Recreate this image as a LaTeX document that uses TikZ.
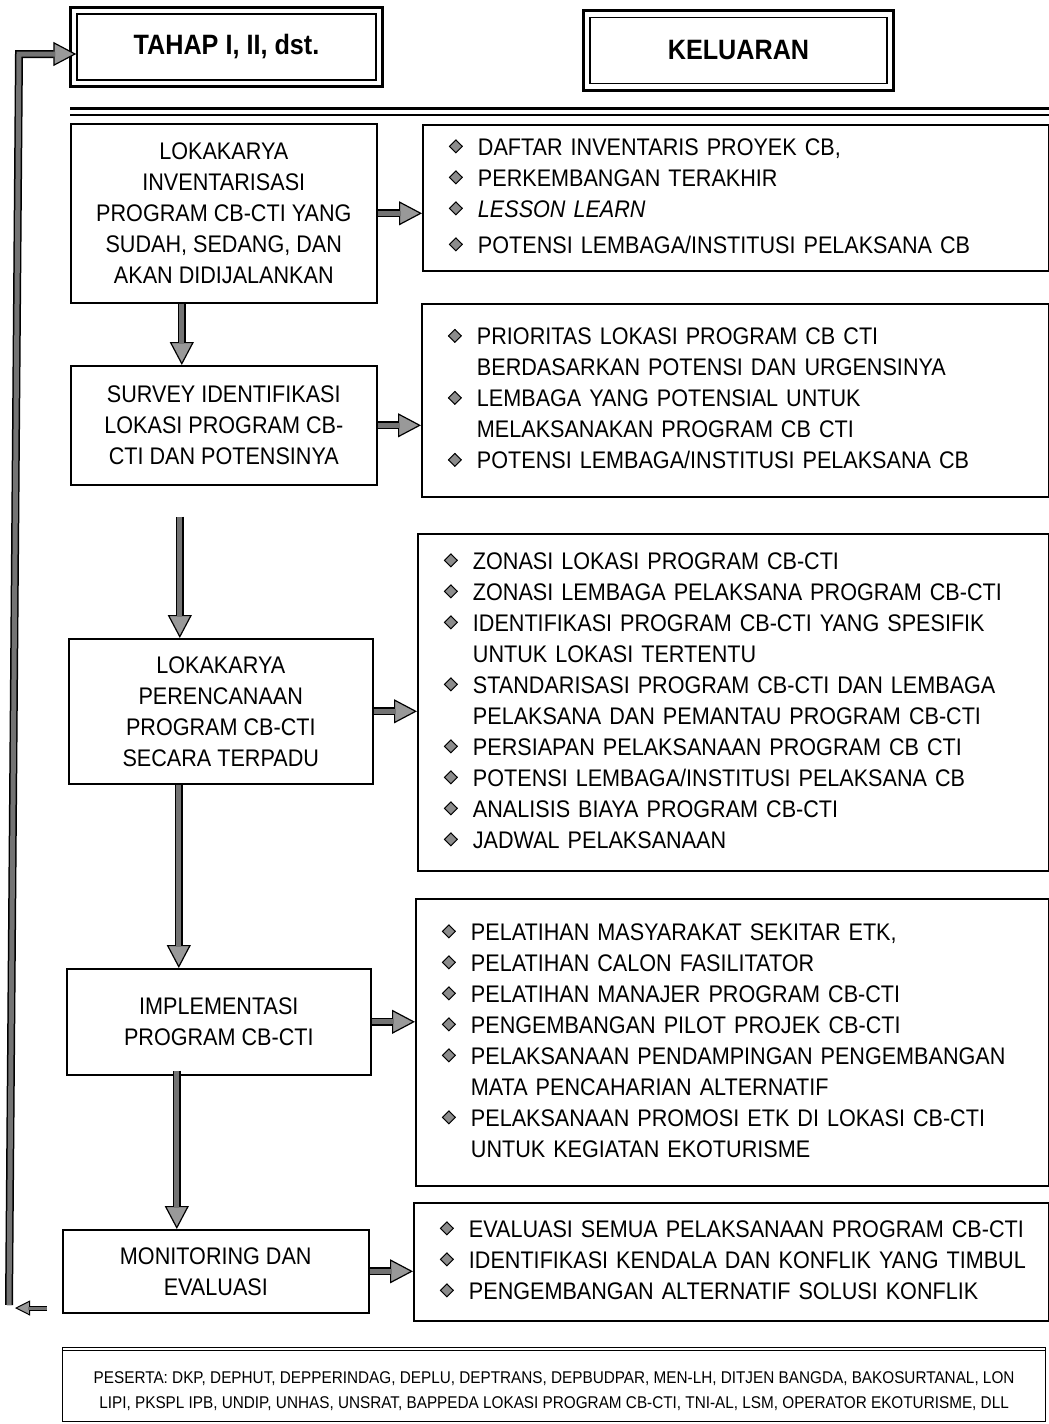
\documentclass[tikz,border=0pt]{standalone}
\usepackage{graphicx}
\usepackage{fontspec}
\setmainfont{Liberation Sans}[FakeStretch=0.9]
\usetikzlibrary{arrows.meta}

\newcommand{\bul}{\raisebox{2.3pt}{\setlength{\fboxsep}{0pt}\setlength{\fboxrule}{1pt}%
    \rotatebox{45}{\fcolorbox{black}{black!45}{\rule{0pt}{8pt}\rule{8pt}{0pt}}}}}
\newcommand{\itm}{\bul &}

\begin{document}
\begin{tikzpicture}[x=1pt,y=-1pt]

    % Set the canvas size
    \useasboundingbox (0,0) rectangle (1049,1424);

    % Define styles
    \tikzset{
        headbox/.style={draw, line width=1.4pt, minimum height=66pt, font=\fontsize{28}{32}\selectfont\bfseries},
        headframe/.style={line width=3pt},
        stagebox/.style={draw, line width=1.6pt, anchor=north west, align=center, inner sep=0pt, font=\fontsize{24}{31}\selectfont},
        outbox/.style={draw, line width=1.6pt, anchor=north west, inner xsep=26pt, inner ysep=0pt, font=\fontsize{24}{31}\selectfont},
        fatarrow/.style={line width=8pt, -{Triangle[length=23pt, width=24pt, line width=1.2pt, fill=black!40]},
            postaction={draw=black!55, line width=5pt, -, shorten >=21pt}},
        smallarrow/.style={line width=5pt, -{Triangle[length=15pt, width=15pt, line width=1pt, fill=black!40]},
            postaction={draw=black!55, line width=3pt, -, shorten >=13pt}},
    }

    % Headers
    \node[headbox, minimum width=299pt] (tahap) at (226.5,47) {TAHAP I, II, dst.};
    \node[headbox, minimum width=297pt] (keluaran) at (738.5,50.5) {KELUARAN};
    \draw[headframe] ([xshift=-6pt,yshift=6pt]tahap.north west) rectangle ([xshift=6pt,yshift=-6pt]tahap.south east);
    \draw[headframe] ([xshift=-6pt,yshift=6pt]keluaran.north west) rectangle ([xshift=6pt,yshift=-6pt]keluaran.south east);
    \draw[line width=3pt] (70,108) -- (1049,108);
    \draw[line width=1.5pt] (70,115) -- (1049,115);

    % Stages
    \node[stagebox, minimum width=306pt, minimum height=179pt] (inv) at (70,123)
        {LOKAKARYA\\INVENTARISASI\\PROGRAM CB-CTI YANG\\SUDAH, SEDANG, DAN\\AKAN DIDIJALANKAN};
    \node[stagebox, minimum width=306pt, minimum height=119pt] (survey) at (70,365)
        {SURVEY IDENTIFIKASI\\LOKASI PROGRAM CB-\\CTI DAN POTENSINYA};
    \node[stagebox, minimum width=304pt, minimum height=145pt] (plan) at (68,638)
        {LOKAKARYA\\PERENCANAAN\\PROGRAM CB-CTI\\SECARA TERPADU};
    \node[stagebox, minimum width=304pt, minimum height=106pt] (impl) at (66,968)
        {IMPLEMENTASI\\PROGRAM CB-CTI};
    \node[stagebox, minimum width=306pt, minimum height=83pt] (monev) at (62,1229)
        {MONITORING DAN\\EVALUASI};

    % Outputs
    \node[outbox, text width=574pt, minimum height=146pt] (out1) at (422,124) {%
        \begin{tabular}{@{}l@{\hspace{15pt}}l@{}}
        \itm DAFTAR INVENTARIS PROYEK CB,\\
        \itm PERKEMBANGAN TERAKHIR\\
        \itm \textit{LESSON LEARN}\\[5pt]
        \itm POTENSI LEMBAGA/INSTITUSI PELAKSANA CB\\
        \end{tabular}};
    \node[outbox, text width=575pt, minimum height=193pt] (out2) at (421,303) {%
        \begin{tabular}{@{}l@{\hspace{15pt}}l@{}}
        \itm PRIORITAS LOKASI PROGRAM CB CTI\\
        & BERDASARKAN POTENSI DAN URGENSINYA\\
        \itm LEMBAGA YANG POTENSIAL UNTUK\\
        & MELAKSANAKAN PROGRAM CB CTI\\
        \itm POTENSI LEMBAGA/INSTITUSI PELAKSANA CB\\
        \end{tabular}};
    \node[outbox, text width=579pt, minimum height=337pt] (out3) at (417,533) {%
        \begin{tabular}{@{}l@{\hspace{15pt}}l@{}}
        \itm ZONASI LOKASI PROGRAM CB-CTI\\
        \itm ZONASI LEMBAGA PELAKSANA PROGRAM CB-CTI\\
        \itm IDENTIFIKASI PROGRAM CB-CTI YANG SPESIFIK\\
        & UNTUK LOKASI TERTENTU\\
        \itm STANDARISASI PROGRAM CB-CTI DAN LEMBAGA\\
        & PELAKSANA DAN PEMANTAU PROGRAM CB-CTI\\
        \itm PERSIAPAN PELAKSANAAN PROGRAM CB CTI\\
        \itm POTENSI LEMBAGA/INSTITUSI PELAKSANA CB\\
        \itm ANALISIS BIAYA PROGRAM CB-CTI\\
        \itm JADWAL PELAKSANAAN\\
        \end{tabular}};
    \node[outbox, text width=581pt, minimum height=287pt] (out4) at (415,898) {%
        \begin{tabular}{@{}l@{\hspace{15pt}}l@{}}
        \itm PELATIHAN MASYARAKAT SEKITAR ETK,\\
        \itm PELATIHAN CALON FASILITATOR\\
        \itm PELATIHAN MANAJER PROGRAM CB-CTI\\
        \itm PENGEMBANGAN PILOT PROJEK CB-CTI\\
        \itm PELAKSANAAN PENDAMPINGAN PENGEMBANGAN\\
        & MATA PENCAHARIAN ALTERNATIF\\
        \itm PELAKSANAAN PROMOSI ETK DI LOKASI CB-CTI\\
        & UNTUK KEGIATAN EKOTURISME\\
        \end{tabular}};
    \node[outbox, text width=583pt, minimum height=118pt] (out5) at (413,1202) {%
        \begin{tabular}{@{}l@{\hspace{15pt}}l@{}}
        \itm EVALUASI SEMUA PELAKSANAAN PROGRAM CB-CTI\\
        \itm IDENTIFIKASI KENDALA DAN KONFLIK YANG TIMBUL\\
        \itm PENGEMBANGAN ALTERNATIF SOLUSI KONFLIK\\
        \end{tabular}};

    % Participants
    \node[draw, line width=1.2pt, anchor=north west, inner sep=0pt, minimum width=983pt, minimum height=74pt,
        align=center, font=\fontsize{17}{25}\selectfont, text height=49pt] (peserta) at (62,1347)
        {PESERTA: DKP, DEPHUT, DEPPERINDAG, DEPLU, DEPTRANS, DEPBUDPAR, MEN-LH, DITJEN BANGDA, BAKOSURTANAL, LON\\
         LIPI, PKSPL IPB, UNDIP, UNHAS, UNSRAT, BAPPEDA LOKASI PROGRAM CB-CTI, TNI-AL, LSM, OPERATOR EKOTURISME, DLL};
    \draw[line width=1.2pt] ([yshift=-3.5pt]peserta.north west) -- ([yshift=-3.5pt]peserta.north east);

    % Down arrows between stages
    \coordinate (d1) at ([xshift=-42pt]inv.south);
    \coordinate (d2) at ([xshift=-44pt,yshift=-31pt]survey.south);
    \coordinate (d3) at ([xshift=-42pt]plan.south);
    \coordinate (d4) at ([xshift=-42pt,yshift=5pt]impl.south);
    \draw[fatarrow] (d1) -- (d1 |- survey.north);
    \draw[fatarrow] (d2) -- (d2 |- plan.north);
    \draw[fatarrow] (d3) -- (d3 |- impl.north);
    \draw[fatarrow] (d4) -- (d4 |- monev.north);

    % Arrows to outputs
    \draw[fatarrow] (inv.east) -- (inv.east -| out1.west);
    \draw[fatarrow] (survey.east) -- (survey.east -| out2.west);
    \draw[fatarrow] (plan.east) -- (plan.east -| out3.west);
    \draw[fatarrow] (impl.east) -- (impl.east -| out4.west);
    \draw[fatarrow] (monev.east) -- (monev.east -| out5.west);

    % Feedback to next stage
    \coordinate (fbtop) at (19,54);
    \coordinate (fbbot) at (9,1305);
    \coordinate (fbin) at (47,1308);
    \coordinate (fbout) at (15,1308);
    \draw[fatarrow] (fbbot) -- (fbtop) -- (fbtop -| tahap.west);
    \draw[smallarrow] (fbin) -- (fbout);

\end{tikzpicture}
\end{document}
